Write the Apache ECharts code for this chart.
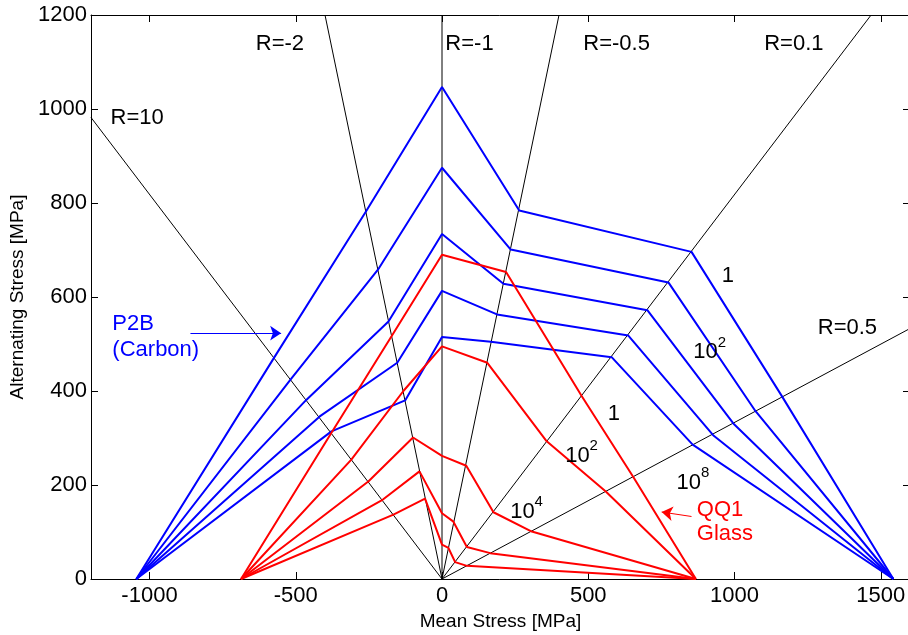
<!DOCTYPE html>
<html><head><meta charset="utf-8">
<script src="https://cdn.jsdelivr.net/npm/echarts@6/dist/echarts.min.js"></script>
<style>html,body{margin:0;padding:0;background:#fff}#c{width:908px;height:635px}</style>
</head><body><div id="c"></div>
<script>
// ---- tick values ----
const xTicks = [-1000, -500, 0, 500, 1000, 1500];
const yTicks = [0, 200, 400, 600, 800, 1000, 1200];

// ---- R-ratio reference lines (mean, alternating) ----
const rLineR10  = [[0, 0], [-1200, 982]];
const rLineRm2  = [[0, 0], [-400, 1200]];
const rLineRm1  = [[0, 0], [0, 1200]];
const rLineRm05 = [[0, 0], [400, 1200]];
const rLineR01  = [[0, 0], [1467, 1200]];
const rLineR05  = [[0, 0], [1600, 533]];

// ---- P2B (Carbon) constant life curves ----
const p2b_1   = [[-1045, 0], [-575, 470], [-260, 782], [0, 1047], [264, 784], [853, 696], [1163, 388], [1543, 0]];
const p2b_2   = [[-1045, 0], [-518, 424], [-219, 658], [0, 875], [235, 701], [774, 631], [1072, 357], [1543, 0]];
const p2b_3   = [[-1045, 0], [-464, 381], [-183, 548], [0, 734], [210, 628], [702, 572], [996, 331], [1543, 0]];
const p2b_4   = [[-1045, 0], [-418, 346], [-153, 460], [0, 613], [188, 563], [637, 518], [927, 306], [1543, 0]];
const p2b_5   = [[-1045, 0], [-378, 314], [-126, 380], [0, 515], [167, 505], [580, 472], [857, 286], [1543, 0]];

// ---- QQ1 (Glass) constant life curves ----
const qq1_1 = [[-687, 0], [-379, 310], [-172, 517], [0, 690], [219, 653], [478, 389], [654, 217], [868, 0]];
const qq1_2 = [[-687, 0], [-310, 254], [-132, 400], [0, 495], [155, 460], [358, 293], [560, 186], [868, 0]];
const qq1_3 = [[-687, 0], [-251, 208], [-99, 301], [0, 262], [83, 241], [176, 142], [307, 101], [868, 0]];
const qq1_4 = [[-687, 0], [-202, 169], [-77, 229], [0, 140], [39, 122], [85, 68], [165, 55], [868, 0]];
const qq1_5 = [[-687, 0], [-166, 137], [-58, 171], [0, 73], [22, 66], [45, 36], [85, 28], [868, 0]];

const FONT = "'Liberation Sans', Arial, Helvetica, sans-serif";
const BLUE = '#0000ff', RED = '#ff0000', BLACK = '#000000';

// ---- annotations (text placement in data coordinates) ----
const annotations = [
  {t: 'R=-2', x: -554, y: 1139, c: BLACK, a: 'center'},
  {t: 'R=-1', x: 94, y: 1139, c: BLACK, a: 'center'},
  {t: 'R=-0.5', x: 597, y: 1139, c: BLACK, a: 'center'},
  {t: 'R=0.1', x: 1203, y: 1139, c: BLACK, a: 'center'},
  {t: 'R=10', x: -1042, y: 981, c: BLACK, a: 'center'},
  {t: 'R=0.5', x: 1386, y: 535, c: BLACK, a: 'center'},
  {t: '1', x: 977, y: 645, c: BLACK, a: 'center'},
  {t: '{b|10}{s|2}', x: 859, y: 489, c: BLACK, a: 'left'},
  {t: '{b|10}{s|8}', x: 802, y: 211, c: BLACK, a: 'left'},
  {t: '1', x: 588, y: 352, c: BLACK, a: 'center'},
  {t: '{b|10}{s|2}', x: 421, y: 269, c: BLACK, a: 'left'},
  {t: '{b|10}{s|4}', x: 233, y: 150, c: BLACK, a: 'left'},
  {t: 'P2B', x: -1127, y: 543, c: BLUE, a: 'left'},
  {t: '(Carbon)', x: -1127, y: 488, c: BLUE, a: 'left'},
  {t: 'QQ1', x: 871, y: 148, c: RED, a: 'left'},
  {t: 'Glass', x: 871, y: 95, c: RED, a: 'left'}
];
const arrows = [
  {from: [-860, 523], to: [-550, 523], c: BLUE},
  {from: [853, 133], to: [751, 142.5], c: RED}
];

function curve(data, color, width, z) {
  return {type: 'line', data: data, symbol: 'none', silent: true, animation: false,
    lineStyle: {color: color, width: width}, z: z};
}

const series = [];
[rLineR10, rLineRm2, rLineRm1, rLineRm05, rLineR01, rLineR05].forEach(d => series.push(curve(d, BLACK, 1, 2)));
[p2b_1, p2b_2, p2b_3, p2b_4, p2b_5].forEach(d => series.push(curve(d, BLUE, 2, 3)));
[qq1_1, qq1_2, qq1_3, qq1_4, qq1_5].forEach(d => series.push(curve(d, RED, 2, 4)));

// arrows
arrows.forEach(ar => series.push({
  type: 'line', data: [], silent: true, animation: false, z: 5,
  markLine: {silent: true, animation: false, symbol: ['none', 'arrow'], symbolSize: 11,
    label: {show: false}, emphasis: {disabled: true},
    itemStyle: {color: ar.c},
    lineStyle: {color: ar.c, width: 1, type: 'solid'},
    data: [[{coord: ar.from}, {coord: ar.to}]]}
}));

// text annotations
series.push({
  type: 'scatter', symbolSize: 0, silent: true, animation: false, z: 10,
  itemStyle: {color: 'rgba(0,0,0,0)', opacity: 1},
  emphasis: {disabled: true},
  data: annotations.map(a => ({
    value: [a.x, a.y],
    itemStyle: {opacity: 1},
    label: {
      show: true, formatter: a.t,
      position: a.a === 'left' ? 'right' : 'inside', distance: 0,
      color: a.c, fontSize: 22, fontFamily: FONT, textBorderWidth: 0, textShadowBlur: 0, opacity: 1,
      rich: {
        b: {fontSize: 22, fontFamily: FONT, color: a.c, lineHeight: 28, verticalAlign: 'bottom', textBorderWidth: 0},
        s: {fontSize: 15, fontFamily: FONT, color: a.c, lineHeight: 12, verticalAlign: 'top', textBorderWidth: 0}
      }
    }
  }))
});

const axisCommon = {
  type: 'value', splitLine: {show: false},
  axisLine: {show: true, onZero: false, lineStyle: {color: BLACK, width: 1}}
};
const plain = v => String(v);

const option = {
  backgroundColor: '#fff',
  animation: false,
  grid: {left: 91, top: 15, right: -2, bottom: 56, containLabel: false, outerBoundsMode: 'none'},
  xAxis: [
    Object.assign({}, axisCommon, {
      min: -1200, max: 1600, position: 'bottom',
      axisTick: {show: true, inside: true, length: 7, customValues: xTicks, lineStyle: {color: BLACK}},
      axisLabel: {show: true, customValues: xTicks, formatter: plain, color: BLACK, fontSize: 22, fontFamily: FONT, margin: 6},
      name: 'Mean Stress [MPa]', nameLocation: 'middle', nameGap: 32,
      nameTextStyle: {fontSize: 19, fontFamily: FONT, color: BLACK}
    }),
    Object.assign({}, axisCommon, {
      min: -1200, max: 1600, position: 'top',
      axisTick: {show: true, inside: true, length: 7, customValues: xTicks, lineStyle: {color: BLACK}},
      axisLabel: {show: false}
    })
  ],
  yAxis: [
    Object.assign({}, axisCommon, {
      min: 0, max: 1200, interval: 200, position: 'left',
      axisTick: {show: true, inside: true, length: 7, lineStyle: {color: BLACK}},
      axisLabel: {show: true, formatter: plain, color: BLACK, fontSize: 22, fontFamily: FONT, margin: 4},
      name: 'Alternating Stress [MPa]', nameLocation: 'middle', nameGap: 62, nameRotate: 90,
      nameTextStyle: {fontSize: 19, fontFamily: FONT, color: BLACK}
    }),
    Object.assign({}, axisCommon, {
      min: 0, max: 1200, interval: 200, position: 'right',
      axisTick: {show: true, inside: true, length: 7, lineStyle: {color: BLACK}},
      axisLabel: {show: false}
    })
  ],
  series: series
};

const chart = echarts.init(document.getElementById('c'), null, {renderer: 'canvas'});
chart.setOption(option);
</script>
</body></html>
